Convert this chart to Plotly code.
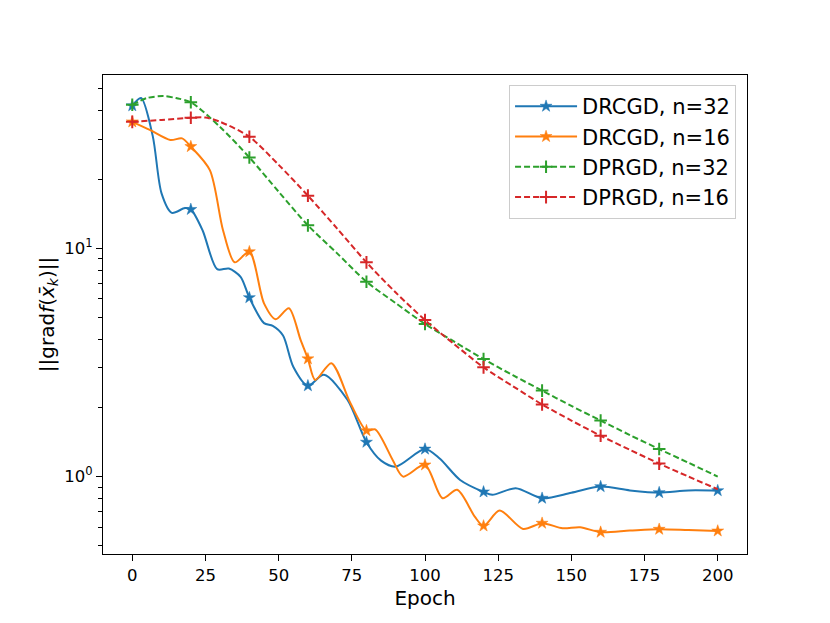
import plotly.graph_objects as go

# values (log-scale gradient norm vs epoch)
drcgd32_epoch = [0, 3, 7, 10, 13.5, 18, 20, 24, 29, 33, 37, 40, 45, 48, 51.5, 55, 60, 65.5,
                 73.5, 80, 85, 90, 100, 105, 112, 120, 123, 131, 140, 150, 160, 170, 180, 190, 200]
drcgd32_val = [42.1, 45.5, 31.0, 17.4, 14.3, 15.0, 14.8, 12.0, 8.1, 8.15, 7.5, 6.08, 4.7, 4.57, 4.15,
               3.03, 2.50, 2.79, 2.17, 1.415, 1.175, 1.106, 1.32, 1.20, 0.967, 0.857, 0.832, 0.89,
               0.804, 0.85, 0.904, 0.87, 0.851, 0.87, 0.868]

drcgd16_epoch = [0, 6, 13, 17, 20, 26.5, 31, 35, 40, 45, 49, 53.5, 57.5, 60, 62.5, 68, 74.5, 80, 83,
                 89, 92.5, 100, 106, 111, 117, 120, 125.5, 133.5, 140, 147, 153, 160, 170, 180, 190, 200]
drcgd16_val = [35.8, 33.0, 29.8, 30.3, 27.9, 22.0, 12.0, 8.68, 9.66, 5.74, 4.89, 5.46, 3.97, 3.28, 2.65,
               3.14, 2.10, 1.59, 1.61, 1.18, 1.00, 1.125, 0.804, 0.875, 0.668, 0.608, 0.71, 0.59, 0.625,
               0.594, 0.60, 0.571, 0.58, 0.588, 0.583, 0.578]

dprgd32_epoch = [0, 5, 10.5, 15, 20, 30, 40, 50, 60, 70, 80, 90, 100, 110, 120, 130, 140, 150, 160,
                 170, 180, 190, 200]
dprgd32_val = [42.5, 45.5, 46.4, 45.5, 43.6, 34.0, 25.0, 17.7, 12.6, 9.5, 7.14, 5.75, 4.66, 3.9, 3.27,
               2.78, 2.38, 2.04, 1.76, 1.52, 1.32, 1.15, 1.0]

dprgd16_epoch = [0, 10, 20, 25, 30, 40, 50, 60, 70, 80, 90, 100, 110, 120, 130, 140, 150, 160, 170,
                 180, 190, 200]
dprgd16_val = [35.8, 36.5, 37.3, 37.4, 35.8, 30.8, 23.2, 17.0, 12.2, 8.68, 6.4, 4.85, 3.8, 3.01, 2.49,
               2.07, 1.76, 1.51, 1.31, 1.14, 1.0, 0.88]

series = [
    ("DRCGD, n=32", drcgd32_epoch, drcgd32_val, "#1f77b4", "solid", "star", 200),
    ("DRCGD, n=16", drcgd16_epoch, drcgd16_val, "#ff7f0e", "solid", "star", 200),
    ("DPRGD, n=32", dprgd32_epoch, dprgd32_val, "#2ca02c", "6px,3px", "cross-thin", 180),
    ("DPRGD, n=16", dprgd16_epoch, dprgd16_val, "#d62728", "6px,3px", "cross-thin", 180),
]

fig = go.Figure()
for i, (name, ep, val, color, dash, sym, last_mark) in enumerate(series):
    grp = "g%d" % i
    fig.add_trace(go.Scatter(x=ep, y=val, mode="lines", showlegend=False, legendgroup=grp,
                             line=dict(color=color, width=2, dash=dash, shape="spline", smoothing=0.8)))
    mx = [e for e in ep if e % 20 == 0 and e <= last_mark]
    my = [v for e, v in zip(ep, val) if e % 20 == 0 and e <= last_mark]
    if sym == "star":
        mk = dict(symbol=sym, size=9, color=color, line=dict(color=color, width=0.5))
    else:
        mk = dict(symbol=sym, size=9, color=color, line=dict(color=color, width=2))
    fig.add_trace(go.Scatter(x=mx, y=my, mode="markers", showlegend=False, legendgroup=grp, marker=mk))
    # legend sample
    fig.add_trace(go.Scatter(x=[None], y=[None], mode="lines+markers", name=name, legendgroup=grp,
                             line=dict(color=color, width=2, dash=dash), marker=mk))

minor_vals = [0.5, 0.6, 0.7, 0.8, 0.9, 2, 3, 4, 5, 6, 7, 8, 9, 20, 30, 40, 50]

# page body has an 8px margin, so the figure is a bit smaller than the window
fig.update_layout(
    width=814, height=607,
    paper_bgcolor="white", plot_bgcolor="white",
    margin=dict(l=95, r=75, t=67, b=61),
    font=dict(family="DejaVu Sans", size=16.5, color="black"),
    legend=dict(x=0.983, y=0.979, xanchor="right", yanchor="top",
                bgcolor="rgba(255,255,255,0.8)", bordercolor="#cccccc", borderwidth=1,
                font=dict(size=21), tracegroupgap=0, itemwidth=62),
    xaxis=dict(range=[-10, 210], tickvals=[0, 25, 50, 75, 100, 125, 150, 175, 200],
               ticks="outside", ticklen=6, tickwidth=1.4, tickcolor="black",
               showline=True, linecolor="black", linewidth=1.4, mirror=True,
               showgrid=False, zeroline=False, automargin=False,
               title=dict(text="Epoch", standoff=6)),
    yaxis=dict(type="log", range=[-0.339, 1.759], tickvals=[1, 10],
               ticktext=["10<sup>0</sup>", "10<sup>1</sup>"],
               ticks="outside", ticklen=6, tickwidth=1.4, tickcolor="black",
               minor=dict(tickvals=minor_vals, ticks="outside", ticklen=3.6, tickwidth=1.1,
                          tickcolor="black", showgrid=False),
               showline=True, linecolor="black", linewidth=1.4, mirror=True,
               showgrid=False, zeroline=False, automargin=False,
               title=dict(text="||grad<i>f</i>(<i>x̄</i><sub><i>k</i></sub>)||", standoff=4)),
)

fig.write_html("out.html")
